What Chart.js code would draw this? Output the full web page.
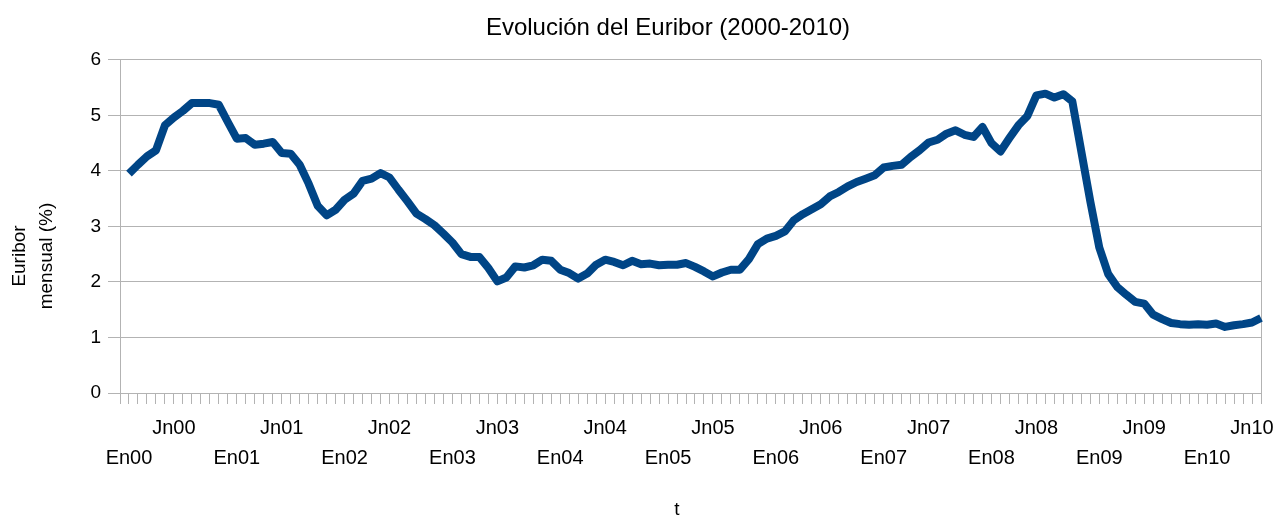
<!DOCTYPE html>
<html lang="es">
  <head>
    <meta charset="UTF-8" />
    <title>Evolución del Euribor</title>
    <style>
      body { margin: 0; background: #fff; }
    </style>
  </head>
  <body>
    <!-- Euribor chart -->
    <canvas id="euribor" width="1277" height="517"></canvas>

    <script src="https://cdn.jsdelivr.net/npm/chart.js@4.4.1/dist/chart.umd.min.js"></script>
    <script>
      // monthly values (%), one array per year
      var euribor2000 = [3.95, 4.11, 4.26, 4.37, 4.82, 4.96, 5.08, 5.22, 5.22, 5.22, 5.19, 4.88];
      var euribor2001 = [4.58, 4.59, 4.47, 4.49, 4.52, 4.32, 4.31, 4.11, 3.77, 3.37, 3.20, 3.30];
      var euribor2002 = [3.48, 3.59, 3.82, 3.86, 3.96, 3.88, 3.66, 3.45, 3.23, 3.13, 3.02, 2.87];
      var euribor2003 = [2.71, 2.50, 2.45, 2.45, 2.25, 2.01, 2.08, 2.28, 2.26, 2.30, 2.40, 2.38];
      var euribor2004 = [2.22, 2.16, 2.06, 2.15, 2.31, 2.40, 2.36, 2.30, 2.38, 2.32, 2.33, 2.30];
      var euribor2005 = [2.31, 2.31, 2.34, 2.27, 2.19, 2.10, 2.17, 2.22, 2.22, 2.41, 2.68, 2.78];
      var euribor2006 = [2.83, 2.91, 3.11, 3.22, 3.31, 3.40, 3.54, 3.62, 3.72, 3.80, 3.86, 3.92];
      var euribor2007 = [4.06, 4.09, 4.11, 4.25, 4.37, 4.51, 4.56, 4.67, 4.73, 4.65, 4.61, 4.79];
      var euribor2008 = [4.50, 4.35, 4.59, 4.82, 4.99, 5.36, 5.39, 5.32, 5.38, 5.25, 4.35, 3.45];
      var euribor2009 = [2.62, 2.14, 1.91, 1.77, 1.64, 1.61, 1.41, 1.33, 1.26, 1.24, 1.23, 1.24];
      var euribor2010 = [1.23, 1.25, 1.19, 1.22, 1.24, 1.27, 1.35];

      var years = ['00', '01', '02', '03', '04', '05', '06', '07', '08', '09', '10'];
      var monthCodes = ['En', 'Fb', 'Mz', 'Ab', 'My', 'Jn', 'Jl', 'Ag', 'Sp', 'Oc', 'Nv', 'Dc'];
      var upperRow = 'Jn';   // labels on the first line
      var lowerRow = 'En';   // labels on the second line
      var yTicks = [0, 1, 2, 3, 4, 5, 6];

      var yearly = [euribor2000, euribor2001, euribor2002, euribor2003, euribor2004, euribor2005,
                    euribor2006, euribor2007, euribor2008, euribor2009, euribor2010];

      // first slot is empty so the axis starts one month before En00
      var labels = [''];
      var values = [null];
      yearly.forEach(function (arr, y) {
        arr.forEach(function (v, m) {
          labels.push(monthCodes[m] + years[y]);
          values.push(v);
        });
      });

      var gray = '#b3b3b3';
      Chart.defaults.font.family = '"Liberation Sans", Arial, sans-serif';
      Chart.defaults.color = '#000';

      // axis titles drawn by hand (positions as in the original)
      var axisTitles = {
        id: 'axisTitles',
        afterDraw: function (chart) {
          var ctx = chart.ctx;
          ctx.save();
          ctx.fillStyle = '#000';
          ctx.font = '19px "Liberation Sans", Arial, sans-serif';
          ctx.textAlign = 'center';
          ctx.textBaseline = 'alphabetic';
          [['Euribor', 25], ['mensual (%)', 52]].forEach(function (t) {
            ctx.save();
            ctx.translate(t[1], 256);
            ctx.rotate(-Math.PI / 2);
            ctx.fillText(t[0], 0, 0);
            ctx.restore();
          });
          ctx.fillText('t', 677, 515);
          ctx.restore();
        }
      };

      var last = labels.length - 1;
      new Chart(document.getElementById('euribor'), {
        type: 'line',
        data: {
          labels: labels,
          datasets: [{
            label: 'Euribor',
            data: values,
            borderColor: '#004586',
            borderWidth: 8,
            borderJoinStyle: 'round',
            pointRadius: 0,
            tension: 0,
            fill: false
          }]
        },
        options: {
          responsive: false,
          animation: false,
          layout: { padding: { left: 75, right: 16, top: 0, bottom: 35 } },
          plugins: {
            legend: { display: false },
            tooltip: { enabled: false },
            title: {
              display: true,
              text: 'Evolución del Euribor (2000-2010)',
              font: { size: 24, weight: 'normal' },
              color: '#000',
              padding: { top: 14, bottom: 17 }
            }
          },
          scales: {
            x: {
              offset: false,
              grid: {
                drawOnChartArea: true,
                color: function (c) { return c.index === last ? gray : 'rgba(0,0,0,0)'; },
                tickColor: gray,
                tickLength: 11
              },
              border: { color: gray },
              ticks: {
                autoSkip: false,
                maxRotation: 0,
                minRotation: 0,
                padding: 9,
                font: { size: 20, lineHeight: 1.5 },
                callback: function (value) {
                  var lab = this.getLabelForValue(value);
                  if (lab.indexOf(upperRow) === 0) return [lab, ''];
                  if (lab.indexOf(lowerRow) === 0) return ['', lab];
                  return '';
                }
              }
            },
            y: {
              min: yTicks[0],
              max: yTicks[yTicks.length - 1],
              afterFit: function (scale) { scale.width = 45; },
              afterBuildTicks: function (scale) {
                scale.ticks = yTicks.map(function (v) { return { value: v }; });
              },
              grid: { color: gray, tickColor: gray, tickLength: 12 },
              border: { color: gray },
              ticks: { padding: 7, font: { size: 19 } }
            }
          }
        },
        plugins: [axisTitles]
      });
    </script>
  </body>
</html>
